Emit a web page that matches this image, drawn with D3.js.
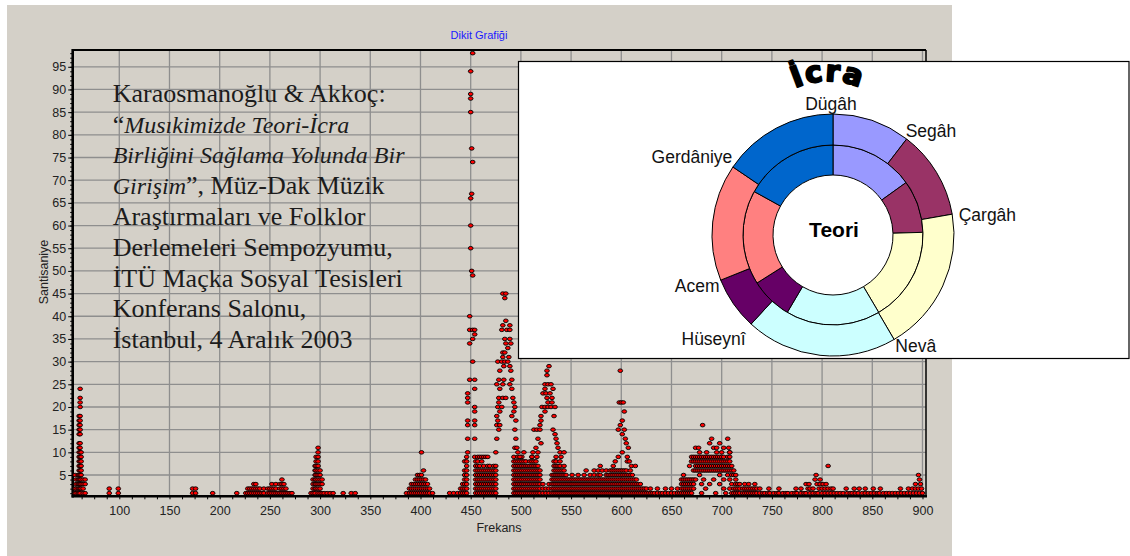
<!DOCTYPE html>
<html>
<head>
<meta charset="utf-8">
<script src="https://cdn.jsdelivr.net/npm/d3@7"></script>
<style>
  body { margin: 0; background: #fff; }
  svg { display: block; }
</style>
</head>
<body>
<div class="plot"></div>
<script>
// --- dikit grafigi data: [frekans, [santisaniye values...]] columns and single [f, v] points
const lowCols = [
  [56,[1,2,5]],[57,[1,2,3,4]],[59,[1,2,3,4,5]],
  [60,[1,2,3,4,5,6,7,8,9,10,11,12,14,15,16,17,18]],
  [61,[1,2,3,4,5,6,7,8,9,10,11,12,14,15,16,17,18,20,21,22,24]],
  [62,[2,3,4,5,6,7,8,9,10]],[64,[1,2,3,4]],[66,[1,3,4]],
  [90,[1,2]],[99,[1,2]],
  [173,[1,2]],[176,[1,2]],[193,[1]],[217,[1]]
]
const midCols = [
  [226,[1]],[228,[1,2]],[230,[1,2]],[232,[1,2]],[234,[1,2,3]],[236,[1,2,3]],[238,[1,2]],[240,[1,2]],[242,[1]],[244,[1,2]],
  [248,[1,2]],[250,[1,2]],[252,[1,2,3]],[254,[1,2]],[256,[1,2,3]],[258,[1]],[260,[1,2,3]],[262,[1,2,3,4]],[264,[1,2,3]],[266,[1,2]],[268,[1]],[270,[1]],[272,[1]],
  [291,[1]],[293,[1,2,3,4]],[295,[1,2,3,4,5,6,7]],[296,[2,3,4,5,6,7,8,9]],[298,[1,2,3,4,5,6,7,8,9,10,11]],[300,[1,2,3,4,5,6]],[302,[1,3,4]],
  [304,[1]],[307,[1]],[310,[1]],[313,[1]],[323,[1]],[331,[1]],[335,[1]],
  [386,[1]],[389,[1,2]],[391,[1,2,3]],[393,[1,2,3]],[395,[1,2,3,4]],[397,[1,2,3,4,5]],[399,[1,2,3,4,5]],[401,[1,2,3,4,5,10]],[403,[1,2,3,4,6]],[405,[1,2,3,4]],[407,[1,2,3]],[409,[1,2]],[412,[1]]
]
const cols450 = [
  [429,[1]],[433,[1]],[437,[1]],[440,[1,2]],[442,[1,2,3]],[444,[1,2,3,4,5,6,8]],[446,[1,2,3,4,5,6,7,8,9]],
  [447,[10,13,16,17,21,22,23]],[449,[26,34,37,40]],[450,[55,60,66,85,88,89,94]],[451,[50,67,77]],[452,[30,35,37,49,74,98]],
  [454,[9,13,16,17,19,20,24,26,36,37]],
  [455,[1,2,3,4,5,6,7,8]],[457,[1,2,3,4,5,6,7,8,9]],[459,[1,2,3,4,5,6,7,9]],[461,[1,2,3,4,5,6,8,9]],[463,[1,2,3,4,5,6,7,9]],
  [465,[1,2,3,4,5,6,9]],[467,[1,2,3,4,5,6,7,9]],[469,[1,2,3,4,5,6,7]],[471,[1,2,3,4,5,6]],[473,[1,2,3,4,5,6,7]],[475,[1,2,3,4,5,6,7,10]]
]
const tower490 = [
  [482,45],[485,45],[484,44],[485,39],[482,38],[489,38],[481,37],[486,37],[489,37],
  [484,35],[489,35],[485,34],[490,34],[487,33],[482,32],[484,32],[482,31],[488,31],
  [477,30],[481,30],[484,30],[487,30],[483,29],[489,29],[479,28],[490,28],
  [478,26],[483,26],[491,26],[476,25],[482,25],[489,25],[479,24],[491,24],
  [478,22],[482,22],[485,22],[492,22],[478,21],[493,21],[477,20],[481,20],[494,20],[479,19],[493,19],
  [476,18],[491,18],[477,17],[495,17],[476,16],[479,16],[478,15],[494,15],[476,13],[495,13],[494,11],[496,11],[497,10]
]
const cols500 = [
  [493,[1,2,3,4,5,6,7,8,9]],[495,[1,2,3,4,5,6,7,8]],[497,[1,2,3,4,5,6,7,8,9]],[499,[1,2,3,4,5,6,7,8]],[501,[1,2,3,4,5,6,7,8,9]],
  [503,[1,2,3,4,5,6,7,8]],[505,[1,2,3,4,5,6,7,8]],[507,[1,2,3,4,5,6,7]],[509,[1,2,3,4,5,6,7,8]],[511,[1,2,3,4,5,6,7,8,9]],
  [513,[1,2,3,4,5,6,7,8]],[515,[1,2,3,4,5,6,7,8]],[517,[1,2,3,4,5,6,7]],[519,[1,2,3,4,5,6]],
  [522,[1,2,3]],[525,[1,2]],[528,[1,2,3]],[531,[1,2,3,4,5]],
  [533,[1,2,3,4,5,6,7,8]],[535,[1,2,3,4,5,6,7,8]],[537,[1,2,3,4,5,6,7]],[539,[1,2,3,4,5,6,7,8]],[541,[1,2,3,4,5,6]],[543,[1,2,3,4,5,6,7]],[545,[1,2,3,4,5]],
  [547,[1,2,3,4]],[549,[1,2,3,4]],[551,[1,2,3,4,5]],[553,[1,2,3,4]],[555,[1,2,3,4]],[557,[1,2,3,4,5]],[559,[1,2,3,4]],[561,[1,2,3,4]],
  [563,[1,2,3,4,5]],[565,[1,2,3,4,6]],[567,[1,2,3,4]],[569,[1,2,3,4,5]],[571,[1,2,3,4]],[573,[1,2,3,4,5,6]],[575,[1,2,3,4]],
  [577,[1,2,3,4,5,6]],[579,[1,2,3,4,5,7]],[581,[1,2,3,4,6]],[583,[1,2,3,4]],[585,[1,2,3,4,5,6]],[587,[1,2,3,4,5]],[589,[1,2,3,4,5,6]]
]
const tower525 = [
  [528,29],[526,28],[526,27],[524,25],[527,25],[530,25],[524,24],[532,24],[522,23],[525,23],[529,23],[526,22],[531,22],
  [527,21],[531,21],[521,20],[524,20],[527,20],[530,20],[534,20],[524,19],[520,18],[533,18],[520,17],[519,16],
  [513,15],[516,15],[519,15],[532,15],[534,14],[517,13],[535,13],[520,12],[536,12],[515,11],[537,11],
  [503,10],[512,10],[517,10],[539,10],[543,10],[499,9],[511,9],[516,9],[535,9],[540,9]
]
const peak600 = [
  [599,28],[598,21],[600,21],[602,21],[603,19],[601,17],[599,16],[597,15],[603,15],[601,14],[604,13],[605,12],[607,11],
  [601,10],[597,9],[606,9],[594,8],[606,8],[608,8],[592,7],[610,7],[614,7]
]
const cols600 = [
  [591,[1,2,3,4,5,6]],[593,[1,2,3,4,5,6]],[595,[1,2,3,4,5,6]],[597,[1,2,3,4,5,6]],[599,[1,2,3,4,5,6]],[601,[1,2,3,4,5,6]],
  [603,[1,2,3,4,5,6]],[605,[1,2,3,4,5,6]],[607,[1,2,3,4,5]],[609,[1,2,3,4,5,6]],[611,[1,2,3,4,5]],[613,[1,2,3,4]],
  [615,[1,2,3,4]],[617,[1,2,3]],[619,[1,2,3]],[621,[1,2]],[623,[1,2]],[625,[1,2]],
  [627,[1]],[629,[1,2]],[631,[1]],[633,[1]],[636,[1,2]],[639,[1]],[641,[1]],[644,[1,2]],[647,[1]],[650,[1,2]],[653,[1]],[656,[1,2]],[658,[1]]
]
const peak690 = [
  [681,16],[690,13],[706,13],[688,12],[698,12],[674,11],[677,11],[692,11],[695,11],[702,11],[707,11],
  [678,10],[685,10],[695,10],[700,10],[708,10]
]
const cols690 = [
  [660,[1,2,3,4]],[662,[1,2,3,4,5]],[664,[1,2,3,4]],[666,[1,2,3,4]],[668,[1,2,3,4,7]],[670,[1,2,3,4,8,9]],[672,[2,3,4,6,8,9]],
  [674,[4,6,7,8,9]],[676,[6,7,8,9]],[678,[5,6,7,8,9]],[680,[1,3,6,7,8,9]],[682,[4,6,7,8,9]],[684,[2,6,7,8,9]],[686,[6,7,8,9]],
  [688,[3,6,7,8,9]],[690,[6,7,8,9]],[692,[4,6,7,8,9]],[694,[1,6,7,8,9]],[696,[6,7,8,9]],[698,[3,5,6,7,8,9]],[700,[6,7,8,9]],
  [702,[2,4,6,7,8,9]],[704,[1,6,7,8]],[706,[5,6,7,8,9]],[708,[2,4,6,7,8,9,10]],[710,[1,3,5,6,7]],[712,[1,2,5,6]],
  [714,[1,2,3,4,5]],[716,[1,2,3]],[718,[1,2,3]],[721,[1,2]],[723,[1,2,3]],[725,[1,2]],[727,[1,2,3]],[729,[1,2]],
  [731,[1,2]],[733,[1,2,3]],[735,[1,2]],[738,[1,2]]
]
// 740-900 Hz
const tailOnes = [741,743,746,748,752,755,757,761,764,766,770,773,775,779,782,784,788,791,794,796,800,803,806,809,812,815,
  818,821,825,828,830,833,836,840,843,846,849,852,855,857,861,864,867,870,873,876,879,882,885,888,891,894,897,900]
const tailTwos = [747,757,774,779,786,788,791,797,800,803,806,809,811,824,832,837,843,851,858,878,886,890,893,896,899]
const tailHigh = [[784,3],[787,3],[795,3],[798,3],[801,3],[804,3],[893,3],[898,3],[793,4],[798,4],[897,4],[794,5],[896,5],[806,7]]

// axes
const xTicks = [100,150,200,250,300,350,400,450,500,550,600,650,700,750,800,850,900]
const yTicks = [5,10,15,20,25,30,35,40,45,50,55,60,65,70,75,80,85,90,95]

// cember (inset) data
const notes = ['Dügâh','Segâh','Çargâh','Nevâ','Hüseynî','Acem','Gerdâniye']
const teoriKoma = [8,5,9,9,4,9,9]           // inner ring, commas
const icraCent = [125,142,232,243,85,187,186] // outer ring, cents
const segColors = ['#9999ff','#993366','#ffffcc','#ccffff','#660066','#ff8080','#0066cc']

// flatten everything into points
const points = []
const addCols = cols => cols.forEach(c => c[1].forEach(v => points.push({f:c[0], v:v})))
const addPairs = prs => prs.forEach(p => points.push({f:p[0], v:p[1]}))
addCols(lowCols); addCols(midCols); addCols(cols450); addPairs(tower490); addCols(cols500)
addPairs(tower525); addPairs(peak600); addCols(cols600); addPairs(peak690); addCols(cols690)
tailOnes.forEach(f => points.push({f:f, v:1}))
tailTwos.forEach(f => points.push({f:f, v:2}))
addPairs(tailHigh)

const width = 1130, height = 556
const svg = d3.select('.plot').append('svg').attr('width', width).attr('height', height)
svg.append('rect').attr('width', width).attr('height', height).attr('fill', '#fff')
svg.append('rect').attr('x', 7).attr('y', 5).attr('width', 945).attr('height', 551).attr('fill', '#d4d0c8')

const pLeft = 72.7, pRight = 926, pTop = 50, pBottom = 497.7
const x = d3.scaleLinear().domain([53.6, 903.5]).range([pLeft, pRight])
const y = d3.scaleLinear().domain([0, 98.7]).range([pBottom, pTop])

// grid
svg.append('g').selectAll('line').data(xTicks).enter().append('line')
  .attr('x1', d=>x(d)).attr('x2', d=>x(d)).attr('y1', pTop).attr('y2', 496)
  .attr('stroke', '#8e8e8e').attr('stroke-width', 1.3)
svg.append('g').selectAll('line').data(yTicks).enter().append('line')
  .attr('x1', pLeft).attr('x2', pRight).attr('y1', d=>y(d)).attr('y2', d=>y(d))
  .attr('stroke', '#8e8e8e').attr('stroke-width', 1.3)

// axes
const axFont = g => g.selectAll('text').attr('font-family', 'Liberation Sans, Arial').attr('font-size', 12.5).attr('fill', '#222')
svg.append('g').attr('transform', 'translate(0,496.3)')
  .call(d3.axisBottom(x).tickValues(d3.range(62.5, 903, 12.5)).tickSize(3).tickFormat(''))
  .call(g => g.select('.domain').remove())
svg.append('g').attr('transform', 'translate(0,496.3)')
  .call(d3.axisBottom(x).tickValues(xTicks).tickSize(0).tickPadding(10))
  .call(g => g.select('.domain').remove())
  .call(axFont)
svg.append('g').attr('transform', `translate(${pLeft},0)`)
  .call(d3.axisLeft(y).tickValues(d3.range(1, 98.5, 1)).tickSize(2.5).tickFormat(''))
  .call(g => g.select('.domain').remove())
svg.append('g').attr('transform', `translate(${pLeft},0)`)
  .call(d3.axisLeft(y).tickValues(yTicks).tickSize(4.5).tickPadding(2))
  .call(g => g.select('.domain').remove())
  .call(axFont)

// frame
svg.append('line').attr('x1', pLeft).attr('x2', pLeft).attr('y1', pTop-1).attr('y2', 497.5).attr('stroke', '#000').attr('stroke-width', 2.6)
svg.append('line').attr('x1', pLeft-1).attr('x2', pRight+1).attr('y1', 496.3).attr('y2', 496.3).attr('stroke', '#000').attr('stroke-width', 2.6)
svg.append('line').attr('x1', pLeft).attr('x2', pRight).attr('y1', pTop).attr('y2', pTop).attr('stroke', '#000').attr('stroke-width', 1.8)
svg.append('line').attr('x1', pRight).attr('x2', pRight).attr('y1', pTop).attr('y2', 497).attr('stroke', '#000').attr('stroke-width', 1.5)

// titles
svg.append('text').attr('x', 479).attr('y', 39).attr('text-anchor', 'middle')
  .attr('font-family', 'Liberation Sans, Arial').attr('font-size', 11).attr('fill', '#1a1aff').text('Dikit Grafiği')
svg.append('text').attr('x', 499).attr('y', 532).attr('text-anchor', 'middle')
  .attr('font-family', 'Liberation Sans, Arial').attr('font-size', 12.5).attr('fill', '#222').text('Frekans')
svg.append('text').attr('transform', 'translate(48,272) rotate(-90)').attr('text-anchor', 'middle')
  .attr('font-family', 'Liberation Sans, Arial').attr('font-size', 12.5).attr('fill', '#222').text('Santisaniye')

// points
svg.append('g').selectAll('ellipse').data(points).enter().append('ellipse')
  .attr('cx', d=>x(d.f)).attr('cy', d=>y(d.v))
  .attr('rx', 2.35).attr('ry', 1.8)
  .attr('fill', '#ff0000').attr('stroke', '#000').attr('stroke-width', 0.9)

// big serif note
const lines = [
  [{t:'Karaosmanoğlu & Akkoç:'}],
  [{t:'“'},{t:'Musıkimizde Teori-İcra', i:1}],
  [{t:'Birliğini Sağlama Yolunda Bir', i:1}],
  [{t:'Girişim', i:1},{t:'”, Müz-Dak Müzik'}],
  [{t:'Araştırmaları ve Folklor'}],
  [{t:'Derlemeleri Sempozyumu,'}],
  [{t:'İTÜ Maçka Sosyal Tesisleri'}],
  [{t:'Konferans Salonu,'}],
  [{t:'İstanbul, 4 Aralık 2003'}]
]
const note = svg.append('text').attr('font-family', 'Liberation Serif, Times New Roman, serif')
  .attr('font-size', 26).attr('fill', '#1c1c1c')
lines.forEach((ln, i) => {
  ln.forEach((part, j) => {
    const ts = note.append('tspan').text(part.t)
      .attr('font-style', part.i ? 'italic' : 'normal')
      .attr('font-size', part.i ? 24 : 26)
    if (j === 0) ts.attr('x', 112.7).attr('y', 101.7 + i*30.8)
  })
})

// inset with the two rings
svg.append('rect').attr('x', 518.5).attr('y', 61.5).attr('width', 610.5).attr('height', 297)
  .attr('fill', '#fff').attr('stroke', '#000').attr('stroke-width', 1.2)

const cx = 833, cy = 235
const pie = d3.pie().sort(null).value(d=>d)
const ring = svg.append('g').attr('transform', `translate(${cx},${cy})`)
const innerArc = d3.arc().innerRadius(60).outerRadius(90)
const outerArc = d3.arc().innerRadius(90).outerRadius(121)
ring.selectAll('path.teori').data(pie(teoriKoma)).enter().append('path').attr('class', 'teori')
  .attr('d', innerArc).attr('fill', (d,i)=>segColors[i]).attr('stroke', '#000').attr('stroke-width', 1)
ring.selectAll('path.icra').data(pie(icraCent)).enter().append('path').attr('class', 'icra')
  .attr('d', outerArc).attr('fill', (d,i)=>segColors[i]).attr('stroke', '#000').attr('stroke-width', 1)

// note names sit on the outer boundaries
const labelNudge = [
  {dx:-2, dy:-4, a:'middle'}, {dx:-1, dy:-2, a:'start'}, {dx:6.5, dy:6.7, a:'start'}, {dx:1.3, dy:12.3, a:'start'},
  {dx:-5.4, dy:20.6, a:'end'}, {dx:-1.2, dy:11.4, a:'end'}, {dx:-0.6, dy:-3.9, a:'end'}
]
ring.selectAll('text.lbl').data(pie(icraCent)).enter().append('text').attr('class', 'lbl')
  .attr('x', (d,i)=>121*Math.sin(d.startAngle) + labelNudge[i].dx)
  .attr('y', (d,i)=>-121*Math.cos(d.startAngle) + labelNudge[i].dy)
  .attr('text-anchor', (d,i)=>labelNudge[i].a)
  .attr('font-family', 'Liberation Sans, Arial').attr('font-size', 17.5).attr('fill', '#111')
  .text((d,i)=>notes[i])

ring.append('text').attr('x', 1).attr('y', 1.5).attr('text-anchor', 'middle')
  .attr('font-family', 'Liberation Sans, Arial').attr('font-weight', 'bold').attr('font-size', 21)
  .attr('fill', '#000').text('Teori')

// arched "İcra"
const ar = 78, acx = 828, acy = 159, th = 42 * Math.PI / 180
svg.append('path').attr('id', 'icraArc').attr('fill', 'none')
  .attr('d', `M${acx - ar*Math.sin(th)},${acy - ar*Math.cos(th)} A${ar},${ar} 0 0 1 ${acx + ar*Math.sin(th)},${acy - ar*Math.cos(th)}`)
svg.append('text').attr('font-family', 'DejaVu Sans, Arial').attr('font-weight', 'bold').attr('font-size', 29)
  .attr('letter-spacing', 1.5).attr('fill', '#000').attr('stroke', '#000').attr('stroke-width', 2)
  .attr('stroke-linejoin', 'round')
  .append('textPath').attr('href', '#icraArc').attr('startOffset', '50%').attr('text-anchor', 'middle')
  .text('İcra')
</script>
</body>
</html>
